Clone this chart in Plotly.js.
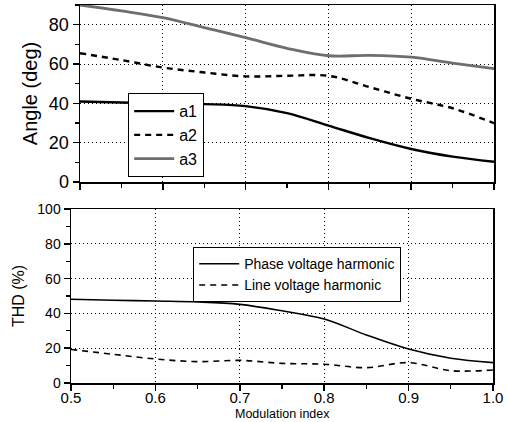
<!DOCTYPE html>
<html><head><meta charset="utf-8">
<script src="https://cdn.plot.ly/plotly-3.0.1.min.js"></script>
<style>html,body{margin:0;padding:0;background:#fff}</style>
</head><body><div id="chart" style="width:507px;height:422px"></div>
<script>
const m = [0.5,0.55,0.6,0.65,0.7,0.75,0.8,0.85,0.9,0.95,1.0];
const a1 = [40.9,40.4,40,39.6,38.6,35,28.7,22.3,16.8,12.9,10.3];
const a2 = [65.5,62,58.2,55.7,53.7,54,54,48.2,42.3,37.5,29.9];
const a3 = [90,87,83.6,78.5,73.4,68,64.2,64.4,63.5,60.5,57.6];
const phaseTHD = [48.1,47.6,47.1,46.6,45.2,41.5,36.8,27.6,19.5,14.2,11.7];
const lineTHD = [19.3,16.5,13.8,12.3,13.0,11.3,10.8,8.8,11.7,7.1,7.5];
const xTicks = [0.5,0.6,0.7,0.8,0.9,1.0];
const xTickText = ['0.5','0.6','0.7','0.8','0.9','1.0'];

const W=507,H=422;
const F = 'Liberation Sans, Arial, sans-serif';
const traces = [
  {x:m,y:a1,name:'a1',mode:'lines',line:{color:'#000',width:2.4,shape:'spline'},xaxis:'x',yaxis:'y',legend:'legend'},
  {x:m,y:a2,name:'a2',mode:'lines',line:{color:'#000',width:2.4,dash:'6px,5px',shape:'spline'},xaxis:'x',yaxis:'y',legend:'legend'},
  {x:m,y:a3,name:'a3',mode:'lines',line:{color:'#6e6e6e',width:2.8,shape:'spline'},xaxis:'x',yaxis:'y',legend:'legend'},
  {x:m,y:phaseTHD,name:'Phase voltage harmonic',mode:'lines',line:{color:'#000',width:1.6,shape:'spline'},xaxis:'x2',yaxis:'y2',legend:'legend2'},
  {x:m,y:lineTHD,name:'Line voltage harmonic',mode:'lines',line:{color:'#000',width:1.6,dash:'6px,5px',shape:'spline'},xaxis:'x2',yaxis:'y2',legend:'legend2'}
];
const axBase = {showline:true,linecolor:'#000',linewidth:1.5,mirror:true,ticks:'outside',ticklen:6,tickwidth:1.5,tickcolor:'#000',
  showgrid:true,gridcolor:'#000',griddash:'1px,3px',gridwidth:1,zeroline:false};
const layout = {
  width:W,height:H,margin:{l:0,r:0,t:0,b:0},paper_bgcolor:'#fff',plot_bgcolor:'#fff',
  font:{family:F,color:'#000'},showlegend:true,
  xaxis:Object.assign({},axBase,{domain:[80/W,494/W],range:[0.5,1.0],anchor:'y',tickvals:xTicks,showticklabels:false,
    minor:{dtick:0.05,ticks:'outside',ticklen:4,tickwidth:1.2,tickcolor:'#000',showgrid:false}}),
  yaxis:Object.assign({},axBase,{domain:[1-182/H,1-5/H],range:[0,90],anchor:'x',dtick:20,
    tickfont:{size:18,family:F},
    minor:{dtick:10,ticks:'outside',ticklen:4,tickwidth:1.2,tickcolor:'#000',showgrid:false},
    title:{text:'Angle (deg)',font:{size:20,family:F},standoff:6}}),
  xaxis2:Object.assign({},axBase,{domain:[71/W,493/W],range:[0.5,1.0],anchor:'y2',tickvals:xTicks,ticktext:xTickText,
    tickfont:{size:15,family:F},ticklabelstandoff:-6,
    minor:{dtick:0.05,ticks:'outside',ticklen:4,tickwidth:1.2,tickcolor:'#000',showgrid:false}}),
  yaxis2:Object.assign({},axBase,{domain:[1-383/H,1-209/H],range:[0,100],anchor:'x2',dtick:20,
    tickfont:{size:14,family:F},
    minor:{dtick:10,ticks:'outside',ticklen:4,tickwidth:1.2,tickcolor:'#000',showgrid:false},
    title:{text:'THD (%)',font:{size:16,family:F},standoff:8}}),
  annotations:[{text:'Modulation index',xref:'paper',yref:'paper',x:282/W,y:0,xanchor:'center',yanchor:'bottom',
    showarrow:false,font:{size:12.5,family:F},borderpad:0}],
  legend:{x:128/W,y:1-93/H,xanchor:'left',yanchor:'top',bgcolor:'#fff',bordercolor:'#000',borderwidth:1.2,
    font:{size:16,family:F},tracegroupgap:0,itemwidth:40},
  legend2:{x:193/W,y:1-247/H,xanchor:'left',yanchor:'top',bgcolor:'#fff',bordercolor:'#000',borderwidth:1.2,
    font:{size:14,family:F},tracegroupgap:0,itemwidth:40}
};
Plotly.newPlot('chart',traces,layout,{displayModeBar:false,staticPlot:true});
</script></body></html>
